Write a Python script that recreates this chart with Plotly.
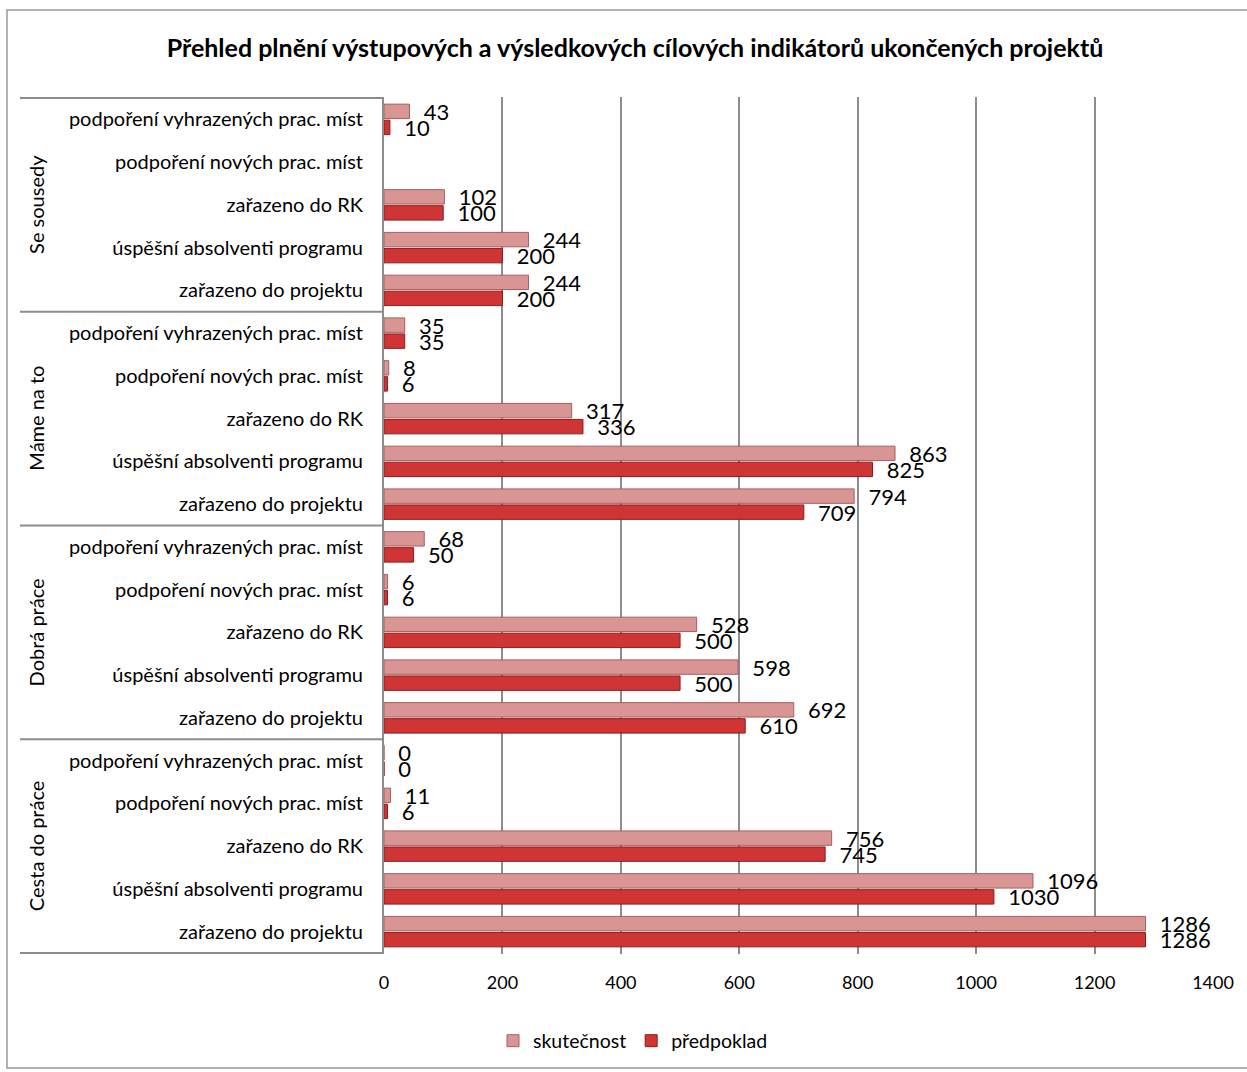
import plotly.graph_objects as go

groups = ["Cesta do práce", "Dobrá práce", "Máme na to", "Se sousedy"]
items = ["zařazeno do projektu", "úspěšní absolventi programu", "zařazeno do RK",
         "podpoření nových prac. míst", "podpoření vyhrazených prac. míst"]

skutecnost = {
    "Cesta do práce": [1286, 1096, 756, 11, 0],
    "Dobrá práce": [692, 598, 528, 6, 68],
    "Máme na to": [794, 863, 317, 8, 35],
    "Se sousedy": [244, 244, 102, None, 43],
}
predpoklad = {
    "Cesta do práce": [1286, 1030, 745, 6, 0],
    "Dobrá práce": [610, 500, 500, 6, 50],
    "Máme na to": [709, 825, 336, 6, 35],
    "Se sousedy": [200, 200, 100, None, 10],
}
x_ticks = [0, 200, 400, 600, 800, 1000, 1200, 1400]
title = "Přehled plnění výstupových a výsledkových cílových indikátorů ukončených projektů"

keys, labels, sk_vals, pr_vals = [], [], [], []
for g in groups:
    for i, it in enumerate(items):
        keys.append(g + "|" + it)
        labels.append(it)
        sk_vals.append(skutecnost[g][i])
        pr_vals.append(predpoklad[g][i])

W, H = 1247, 1072
L, R, T, B = 384, 1213, 97, 954
def px(x): return (x - L) / (R - L)
def py(y): return (B - y) / (B - T)

FONT = "Lato"
GRAY = "#8c8c8c"

def txt(vals):
    return ["" if v is None else "\u00a0\u00a0" + str(v) for v in vals]

fig = go.Figure()
fig.add_trace(go.Bar(
    name="předpoklad", y=keys, x=pr_vals, orientation="h",
    marker=dict(color="#d03535", line=dict(color="#8a1c1c", width=1)),
    text=txt(pr_vals), textposition="outside", constraintext="none", cliponaxis=False,
    outsidetextfont=dict(family=FONT, size=22, color="#000"), legendrank=2,
))
fig.add_trace(go.Bar(
    name="skutečnost", y=keys, x=sk_vals, orientation="h",
    marker=dict(color="#d99594", line=dict(color="#a65f5f", width=1)),
    text=txt(sk_vals), textposition="outside", constraintext="none", cliponaxis=False,
    outsidetextfont=dict(family=FONT, size=22, color="#000"), legendrank=1,
))

shapes = []
# outer chart border
shapes.append(dict(type="rect", xref="paper", yref="paper",
                   x0=px(7), x1=px(1252), y0=py(10), y1=py(1068),
                   line=dict(color="#999999", width=1.5), layer="below"))
# label area horizontal dividers
n = len(items)
bounds = [-0.5] + [k * n - 0.5 for k in range(1, len(groups))] + [len(keys) - 0.5]
for b in bounds:
    shapes.append(dict(type="line", xref="paper", yref="y",
                       x0=px(20), x1=0, y0=b, y1=b,
                       line=dict(color=GRAY, width=2)))

annotations = []
for k, g in enumerate(groups):
    annotations.append(dict(
        text=g, textangle=-90, xref="paper", yref="y",
        x=px(36), y=keys[k * n + n // 2], showarrow=False,
        font=dict(family=FONT, size=20, color="#000"), xanchor="center", yanchor="middle"))

fig.update_layout(
    width=W, height=H,
    margin=dict(l=L, r=W - R, t=T, b=H - B, pad=0),
    paper_bgcolor="white", plot_bgcolor="white",
    barmode="group", bargap=0.25, bargroupgap=0.1,
    title=dict(text="<b>" + title + "</b>", x=635 / W, xanchor="center",
               y=1 - 48 / H, yanchor="middle",
               font=dict(family=FONT, size=25, color="#000")),
    font=dict(family=FONT, size=19, color="#000"),
    showlegend=True,
    legend=dict(orientation="h", x=px(633), xanchor="center", y=py(1041), yanchor="middle",
                font=dict(family=FONT, size=19.5, color="#000"), itemwidth=30,
                traceorder="normal"),
    shapes=shapes, annotations=annotations,
)
fig.update_xaxes(range=[0, 1400], tickvals=x_ticks, showgrid=True, gridcolor=GRAY,
                 gridwidth=1.5, zeroline=False, showline=False, ticks="",
                 ticklabelstandoff=16, tickfont=dict(family=FONT, size=18, color="#000"))
fig.update_yaxes(type="category", categoryorder="array", categoryarray=keys,
                 tickvals=keys, ticktext=labels, showline=True, linecolor=GRAY,
                 linewidth=2, showgrid=False, ticks="", ticklabelstandoff=15,
                 tickfont=dict(family=FONT, size=20, color="#000"))

fig.write_html("out.html")
